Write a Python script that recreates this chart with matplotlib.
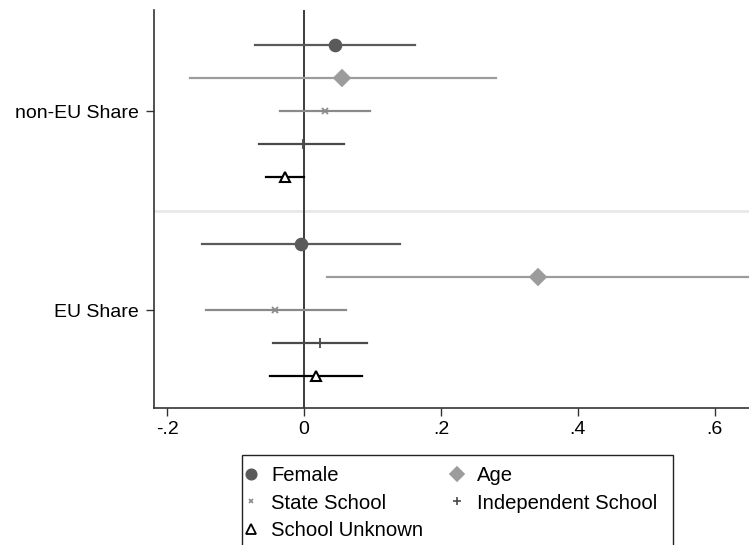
import numpy as np
import matplotlib.pyplot as plt
from matplotlib.lines import Line2D
from matplotlib.patches import Rectangle

plt.rcParams['font.family'] = ['Liberation Sans', 'DejaVu Sans']

groups = ['non-EU Share', 'EU Share']
series = ['Female', 'Age', 'State School', 'Independent School', 'School Unknown']

# point estimates and confidence bounds, one row per group
est = [[0.045, 0.056, 0.031, -0.002, -0.028],
       [-0.005, 0.342, -0.042, 0.023, 0.017]]
lo = [[-0.071, -0.167, -0.035, -0.065, -0.056],
      [-0.149, 0.034, -0.143, -0.045, -0.049]]
hi = [[0.162, 0.280, 0.097, 0.058, 0.000],
      [0.140, 0.700, 0.061, 0.092, 0.085]]

colors = ['#5a5a5a', '#9c9c9c', '#8a8a8a', '#4a4a4a', '#000000']
markers = ['o', 'D', 'x', '+', '^']
msizes = [8.5, 8, 4.5, 7, 7]

W, H = 749, 545
fig = plt.figure(figsize=(W / 100, H / 100), dpi=100)
ax = fig.add_axes([154/W, 137/H, 1 - 154/W, 398/H])

for g in range(len(groups)):
    for i in range(len(series)):
        y = g * 6 + i + 1
        ax.plot([lo[g][i], hi[g][i]], [y, y], color=colors[i], lw=1.6, zorder=2)
        if markers[i] == '^':
            ax.plot(est[g][i], y, marker='^', ms=msizes[i], mfc='white',
                    mec=colors[i], mew=1.5, zorder=3)
        else:
            ax.plot(est[g][i], y, marker=markers[i], ms=msizes[i],
                    color=colors[i], mew=1.3, zorder=3)

ax.axvline(0, color='#3c3c3c', lw=1.4, zorder=1)
ax.axhline(6, color='#e8e8e8', lw=2, zorder=0)

ax.set_xlim(-0.219, 0.65)
ax.set_ylim(11.95, -0.05)
ax.set_xticks([-0.2, 0, 0.2, 0.4, 0.6])
ax.set_xticklabels(['-.2', '0', '.2', '.4', '.6'])
ax.set_yticks([3, 9])
ax.set_yticklabels(groups)
ax.tick_params(labelsize=14, length=6, width=1, color='#333333')
ax.tick_params(axis='y', pad=5)
ax.spines['top'].set_visible(False)
ax.spines['right'].set_visible(False)
for s in ['left', 'bottom']:
    ax.spines[s].set_color('#333333')
    ax.spines[s].set_linewidth(1.2)

handles = []
for i in range(len(series)):
    if markers[i] == '^':
        h = Line2D([], [], ls='none', marker='^', ms=7, mfc='white', mec='black', mew=1.3)
    else:
        h = Line2D([], [], ls='none', marker=markers[i], ms=msizes[i] - 1,
                   color=colors[i], mew=1.2)
    handles.append(h)

# legend fills by column, so reorder to read across rows
order = [0, 2, 4, 1, 3]
leg = fig.legend([handles[k] for k in order], [series[k] for k in order],
                 ncol=2, loc='upper left',
                 bbox_to_anchor=(246/W, 1 - 466/H), fontsize=14.6,
                 frameon=False, handlelength=0.5, handletextpad=0.75,
                 columnspacing=1.4, labelspacing=0.42,
                 borderpad=0, borderaxespad=0)

# legend box runs off the bottom of the figure
box = Rectangle((242/W, -20/H), 431/W, (H - 455 + 20)/H, transform=fig.transFigure,
                fill=False, edgecolor='#222222', lw=1, clip_on=False)
fig.patches.append(box)

fig.savefig('out.png', dpi=100)
